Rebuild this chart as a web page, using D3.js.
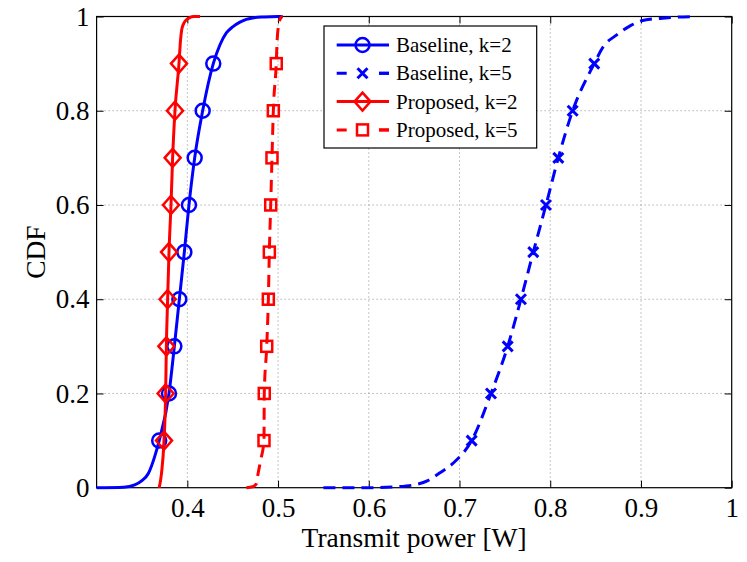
<!DOCTYPE html>
<html>
<head>
<meta charset="utf-8">
<script src="https://cdn.jsdelivr.net/npm/d3@7"></script>
<style>
body { margin: 0; background: #fff; }
text { font-family: "Liberation Serif", "Times New Roman", serif; }
</style>
</head>
<body>
<script>
// cdf curves, x = transmit power [W], y = CDF
var baseK2X = [0.30, 0.33, 0.342, 0.35, 0.357, 0.364, 0.369, 0.3798, 0.3857, 0.3912, 0.3967, 0.4018, 0.4081, 0.4169, 0.4286, 0.436, 0.443, 0.45, 0.458, 0.465, 0.472, 0.485, 0.50, 0.505];
var baseK2Y = [0, 0.001, 0.006, 0.015, 0.03, 0.066, 0.1, 0.2, 0.3, 0.4, 0.5, 0.6, 0.7, 0.8, 0.9, 0.94, 0.965, 0.978, 0.988, 0.994, 0.997, 0.999, 1, 1];

var baseK5X = [0.55, 0.60, 0.63, 0.65, 0.665, 0.678, 0.693, 0.7134, 0.7347, 0.7531, 0.7677, 0.7813, 0.7953, 0.8089, 0.8247, 0.8485, 0.8585, 0.8733, 0.888, 0.9008, 0.921, 0.9614];
var baseK5Y = [0, 0, 0.002, 0.006, 0.015, 0.031, 0.052, 0.1, 0.2, 0.3, 0.4, 0.5, 0.6, 0.7, 0.8, 0.9, 0.936, 0.961, 0.98, 0.991, 0.996, 1];

var propK2X = [0.369, 0.3715, 0.3743, 0.3761, 0.3769, 0.3783, 0.3798, 0.382, 0.3838, 0.3864, 0.3908, 0.3925, 0.3938, 0.396, 0.399, 0.403, 0.407, 0.414];
var propK2Y = [0, 0.03, 0.1, 0.2, 0.3, 0.4, 0.5, 0.6, 0.7, 0.8, 0.9, 0.95, 0.972, 0.985, 0.993, 0.998, 1, 1];

var propK5X = [0.465, 0.472, 0.476, 0.478, 0.481, 0.4845, 0.4848, 0.4875, 0.4893, 0.4904, 0.4919, 0.4933, 0.4948, 0.498, 0.499, 0.501, 0.503, 0.505];
var propK5Y = [0, 0.002, 0.008, 0.03, 0.06, 0.1, 0.2, 0.3, 0.4, 0.5, 0.6, 0.7, 0.8, 0.9, 0.95, 0.985, 0.997, 1];

// markers sit on these cdf levels
var markerLevels = [0.1, 0.2, 0.3, 0.4, 0.5, 0.6, 0.7, 0.8, 0.9];

var seriesNames = ['Baseline, k=2', 'Baseline, k=5', 'Proposed, k=2', 'Proposed, k=5'];
var xTicks = [0.4, 0.5, 0.6, 0.7, 0.8, 0.9, 1];
var yTicks = [0, 0.2, 0.4, 0.6, 0.8, 1];

var zip = function(xs, ys) { return xs.map(function(x, i) { return {x: x, y: ys[i]}; }); };

var series = [
	{name: seriesNames[0], pts: zip(baseK2X, baseK2Y), color: '#0000ff', dash: null, marker: 'circle'},
	{name: seriesNames[1], pts: zip(baseK5X, baseK5Y), color: '#0000ff', dash: '12,7', marker: 'cross'},
	{name: seriesNames[2], pts: zip(propK2X, propK2Y), color: '#ff0000', dash: null, marker: 'diamond'},
	{name: seriesNames[3], pts: zip(propK5X, propK5Y), color: '#ff0000', dash: '12,7', marker: 'square'}
];

var FONT = '"Liberation Serif", "Times New Roman", serif';
var W = 747, H = 562;
var margin = {left: 96.6, right: W - 731.7, top: 16.5, bottom: H - 487.7};
var iw = W - margin.left - margin.right, ih = H - margin.top - margin.bottom;

var svg = d3.select('body').append('svg')
	.attr('width', W)
	.attr('height', H)
	.attr('font-family', FONT);

var g = svg.append('g').attr('transform', 'translate(' + margin.left + ',' + margin.top + ')');

var x = d3.scaleLinear().domain([0.3, 1]).range([0, iw]);
var y = d3.scaleLinear().domain([0, 1]).range([ih, 0]);

// dotted grid
g.selectAll('line.gx')
	.data(xTicks.filter(function(t) { return t < 1; }))
	.enter().append('line')
	.attr('x1', function(d) { return x(d); })
	.attr('x2', function(d) { return x(d); })
	.attr('y1', 0).attr('y2', ih)
	.attr('stroke', '#8c8c8c').attr('stroke-width', 1).attr('stroke-dasharray', '1,3');

g.selectAll('line.gy')
	.data(yTicks.filter(function(t) { return t > 0 && t < 1; }))
	.enter().append('line')
	.attr('y1', function(d) { return y(d); })
	.attr('y2', function(d) { return y(d); })
	.attr('x1', 0).attr('x2', iw)
	.attr('stroke', '#8c8c8c').attr('stroke-width', 1).attr('stroke-dasharray', '1,3');

// axes, ticks pointing inward as matlab does
var fmt = function(d) { return d3.format('')(+d.toFixed(1)); };

var xAxis = g.append('g').attr('transform', 'translate(0,' + ih + ')')
	.call(d3.axisBottom(x).tickValues(xTicks).tickSize(-7).tickPadding(10).tickFormat(fmt));
var xTop = g.append('g')
	.call(d3.axisTop(x).tickValues(xTicks).tickSize(-7).tickFormat(''));
var yAxis = g.append('g')
	.call(d3.axisLeft(y).tickValues(yTicks).tickSize(-7).tickPadding(7).tickFormat(fmt));
var yRight = g.append('g').attr('transform', 'translate(' + iw + ',0)')
	.call(d3.axisRight(y).tickValues(yTicks).tickSize(-7).tickFormat(''));

[xAxis, xTop, yAxis, yRight].forEach(function(a) {
	a.attr('font-family', FONT).attr('font-size', 27);
	a.select('.domain').remove();
	a.selectAll('line').attr('stroke', '#000');
	a.selectAll('text').attr('fill', '#000');
});

g.append('rect')
	.attr('width', iw).attr('height', ih)
	.attr('fill', 'none').attr('stroke', '#000').attr('stroke-width', 1.2);

var line = d3.line()
	.x(function(d) { return x(d.x); })
	.y(function(d) { return y(d.y); })
	.curve(d3.curveMonotoneX);

function drawMarker(sel, kind, color) {
	if (kind === 'circle') {
		sel.append('circle').attr('r', 7)
			.attr('fill', 'none').attr('stroke', color).attr('stroke-width', 2.5);
	} else if (kind === 'diamond') {
		sel.append('path').attr('d', 'M0,-9L8,0L0,9L-8,0Z')
			.attr('fill', 'none').attr('stroke', color).attr('stroke-width', 2.5);
	} else if (kind === 'square') {
		sel.append('rect').attr('x', -5.5).attr('y', -5.5).attr('width', 11).attr('height', 11)
			.attr('fill', 'none').attr('stroke', color).attr('stroke-width', 2.5);
	} else {
		sel.append('path').attr('d', 'M-5,-5L5,5M-5,5L5,-5')
			.attr('fill', 'none').attr('stroke', color).attr('stroke-width', 3);
	}
}

svg.append('defs').append('clipPath').attr('id', 'plotclip')
	.append('rect').attr('x', -2).attr('y', -2).attr('width', iw + 4).attr('height', ih + 4);

series.forEach(function(s) {
	g.append('path')
		.datum(s.pts)
		.attr('d', line)
		.attr('clip-path', 'url(#plotclip)')
		.attr('fill', 'none')
		.attr('stroke', s.color)
		.attr('stroke-width', 3)
		.attr('stroke-dasharray', s.dash);

	var marks = s.pts.filter(function(p) { return markerLevels.indexOf(p.y) >= 0; });
	g.selectAll(null)
		.data(marks)
		.enter().append('g')
		.attr('transform', function(d) { return 'translate(' + x(d.x) + ',' + y(d.y) + ')'; })
		.each(function() { drawMarker(d3.select(this), s.marker, s.color); });
});

// axis labels
svg.append('text')
	.attr('x', margin.left + iw / 2).attr('y', 547)
	.attr('text-anchor', 'middle').attr('font-size', 27.5)
	.text('Transmit power [W]');

svg.append('text')
	.attr('transform', 'translate(45,' + (margin.top + ih / 2) + ') rotate(-90)')
	.attr('text-anchor', 'middle').attr('font-size', 27.5)
	.text('CDF');

// legend
var lg = svg.append('g').attr('transform', 'translate(324,26)');
lg.append('rect').attr('width', 212.7).attr('height', 122)
	.attr('fill', '#fff').attr('stroke', '#000').attr('stroke-width', 1.2);

var rows = lg.selectAll('g.row')
	.data(series)
	.enter().append('g')
	.attr('transform', function(d, i) { return 'translate(0,' + (19 + i * 28.3) + ')'; });

rows.append('line')
	.attr('x1', 12.7).attr('x2', 65)
	.attr('stroke', function(d) { return d.color; })
	.attr('stroke-width', 3)
	.attr('stroke-dasharray', function(d) { return d.dash ? '10,32.3' : null; });

rows.filter(function(d) { return d.dash; }).append('line')
	.attr('x1', 55).attr('x2', 65)
	.attr('stroke', function(d) { return d.color; })
	.attr('stroke-width', 3);

rows.append('g').attr('transform', 'translate(38.5,0)')
	.each(function(d) { drawMarker(d3.select(this), d.marker, d.color); });

rows.append('text')
	.attr('x', 72).attr('y', 7)
	.attr('font-size', 21)
	.text(function(d) { return d.name; });
</script>
</body>
</html>
